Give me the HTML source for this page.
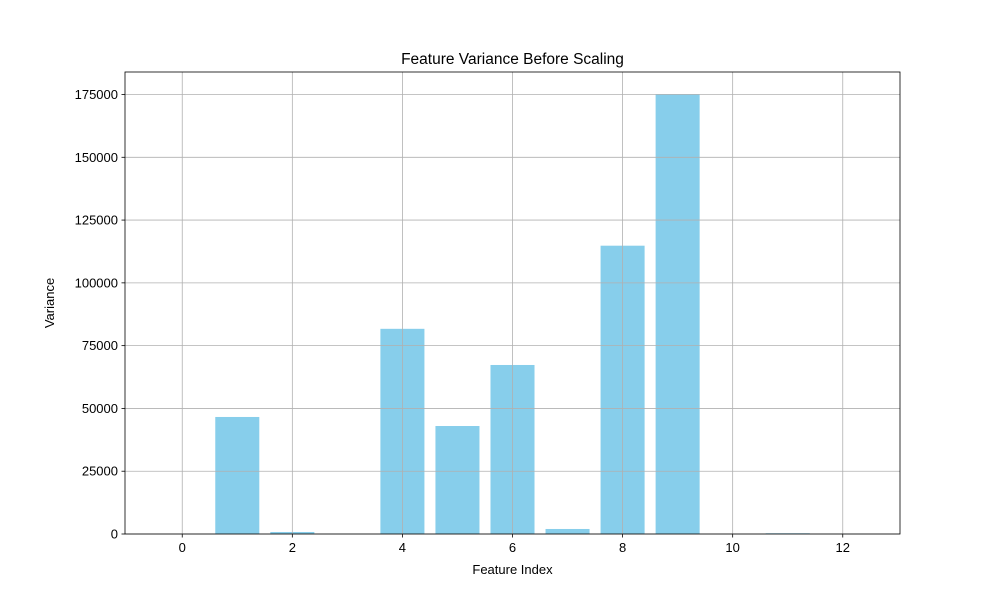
<!DOCTYPE html>
<html><head><meta charset="utf-8"><style>body{margin:0;background:#fff}svg{display:block;font-family:"Liberation Sans","DejaVu Sans",sans-serif}</style></head>
<body>
<svg id="chart" width="1000" height="600"></svg>
<script>
const categories=[0,1,2,3,4,5,6,7,8,9,10,11,12];
const values=[10,46600,800,60,81700,43000,67300,2000,114800,175200,20,300,40];
const xTicks=[0,2,4,6,8,10,12];
const yTicks=[0,25000,50000,75000,100000,125000,150000,175000];
const L=125,R=900,T=72,B=534;
const xMin=-1.04,xMax=13.04,yMax=Math.max(...values)*1.05;
const sx=v=>L+(v-xMin)/(xMax-xMin)*(R-L);
const sy=v=>B-v/yMax*(B-T);
const svg=document.getElementById('chart');
const NS='http://www.w3.org/2000/svg';
function mk(t,a,txt){const e=document.createElementNS(NS,t);for(const k in a)e.setAttribute(k,a[k]);if(txt!==undefined)e.textContent=txt;svg.appendChild(e);return e;}
categories.forEach((c,i)=>{
 const r=mk('rect',{x:sx(c-0.4),y:sy(values[i]),width:sx(c+0.4)-sx(c-0.4),height:B-sy(values[i]),fill:'#87ceeb'});
 
 
});
xTicks.forEach(t=>{
 const x=sx(t);
 const g=mk('line',{x1:x,x2:x,y1:T,y2:B,stroke:'#b0b0b0','stroke-width':0.8});
 
 
 mk('line',{x1:x,x2:x,y1:B,y2:B+3.5,stroke:'#000','stroke-width':0.8});
 const tx=mk('text',{x:x,y:B+18,'text-anchor':'middle','font-size':13},t);
 
 
});
yTicks.forEach(t=>{
 const y=sy(t);
 const g=mk('line',{x1:L,x2:R,y1:y,y2:y,stroke:'#b0b0b0','stroke-width':0.8});
 
 
 mk('line',{x1:L-3.5,x2:L,y1:y,y2:y,stroke:'#000','stroke-width':0.8});
 const tx=mk('text',{x:L-7,y:y+4.5,'text-anchor':'end','font-size':13},t);
 
 
});
const f=mk('rect',{x:L,y:T,width:R-L,height:B-T,fill:'none',stroke:'#000','stroke-width':0.8});


const ti=mk('text',{x:(L+R)/2,y:64,'text-anchor':'middle','font-size':15.5},'Feature Variance Before Scaling');


const xl=mk('text',{x:(L+R)/2,y:574,'text-anchor':'middle','font-size':13},'Feature Index');


const yl=mk('text',{x:54,y:(T+B)/2,'text-anchor':'middle','font-size':13,transform:'rotate(-90 54 '+((T+B)/2)+')'},'Variance');


</script>
</body></html>
